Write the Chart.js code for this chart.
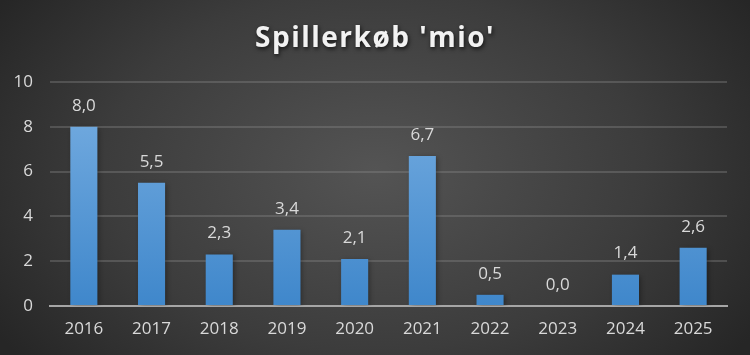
<!DOCTYPE html>
<html>
<head>
<meta charset="utf-8">
<script src="https://cdn.jsdelivr.net/npm/chart.js@4.4.1/dist/chart.umd.min.js"></script>
<style>
  html, body { margin: 0; padding: 0; }
  #wrap {
    width: 750px; height: 355px;
    background: radial-gradient(ellipse 60% 85% at 50% 48%, #545454 0%, #3c3c3c 60%, #262626 100%);
  }
</style>
</head>
<body>
<div id="wrap"><canvas id="chart" width="750" height="355"></canvas></div>
<script>
const title = "Spillerkøb 'mio'";
const years = ['2016', '2017', '2018', '2019', '2020', '2021', '2022', '2023', '2024', '2025'];
const values = [8.0, 5.5, 2.3, 3.4, 2.1, 6.7, 0.5, 0.0, 1.4, 2.6];
const yTicks = [0, 2, 4, 6, 8, 10];

const fontFamily = "'Open Sans', sans-serif";
const textColor = '#d9d9d9';

// title with soft shadow
const titlePlugin = {
    id: 'shadowTitle',
    afterDraw(chart) {
        const ctx = chart.ctx;
        ctx.save();
        ctx.font = 'bold 28px ' + fontFamily;
        ctx.letterSpacing = '1.5px';
        ctx.fillStyle = '#f2f2f2';
        ctx.textAlign = 'center';
        ctx.textBaseline = 'middle';
        ctx.shadowColor = 'rgba(0,0,0,0.7)';
        ctx.shadowBlur = 4;
        ctx.shadowOffsetX = 1;
        ctx.shadowOffsetY = 2;
        ctx.fillText(title, 375, 39);
        ctx.restore();
    }
};

// soft shadow behind the bars
const barShadow = {
    id: 'barShadow',
    beforeDatasetsDraw(chart) {
        const c = chart.ctx;
        c.save();
        c.shadowColor = 'rgba(0,0,0,0.35)';
        c.shadowBlur = 5;
        c.shadowOffsetX = 2;
        c.shadowOffsetY = 1;
    },
    afterDatasetsDraw(chart) {
        chart.ctx.restore();
    }
};

// value labels above bars, with comma decimals
const labelPlugin = {
    id: 'valueLabels',
    afterDatasetsDraw(chart) {
        const ctx = chart.ctx;
        const meta = chart.getDatasetMeta(0);
        ctx.save();
        ctx.font = '17px ' + fontFamily;
        ctx.fillStyle = textColor;
        ctx.textAlign = 'center';
        ctx.textBaseline = 'middle';
        meta.data.forEach((bar, i) => {
            ctx.fillText(values[i].toFixed(1).replace('.', ','), bar.x, bar.y - 21);
        });
        ctx.restore();
    }
};

const ctx = document.getElementById('chart');
new Chart(ctx, {
    type: 'bar',
    data: {
        labels: years,
        datasets: [{
            data: values,
            backgroundColor: function(context) {
                const area = context.chart.chartArea;
                if (!area) return '#5b9bd5';
                const g = context.chart.ctx.createLinearGradient(0, area.top, 0, area.bottom);
                g.addColorStop(0, '#79afe2');
                g.addColorStop(1, '#3f87cb');
                return g;
            },
            barPercentage: 0.4,
            categoryPercentage: 1.0,
        }],
    },
    options: {
        responsive: false,
        animation: false,
        layout: {
            padding: { top: 82, right: 23, left: 0, bottom: 0 },
        },
        plugins: {
            legend: { display: false },
            title: { display: false },
            tooltip: { enabled: false },
        },
        scales: {
            x: {
                grid: { display: false, drawTicks: false },
                border: { color: '#a6a6a6', width: 2 },
                ticks: {
                    color: textColor,
                    font: { family: fontFamily, size: 17 },
                    padding: 13,
                },
                afterFit: s => { s.height = 49; },
            },
            y: {
                min: 0,
                max: 10,
                afterBuildTicks: s => { s.ticks = yTicks.map(v => ({ value: v })); },
                grid: {
                    color: c => c.tick.value === 0 ? 'rgba(0,0,0,0)' : 'rgba(140,140,140,0.35)',
                    lineWidth: 2,
                    drawTicks: false,
                },
                border: { display: false },
                ticks: {
                    color: textColor,
                    font: { family: fontFamily, size: 17 },
                    padding: 17,
                },
                afterFit: s => { s.width = 50; },
            },
        },
    },
    plugins: [barShadow, titlePlugin, labelPlugin],
});
</script>
</body>
</html>
